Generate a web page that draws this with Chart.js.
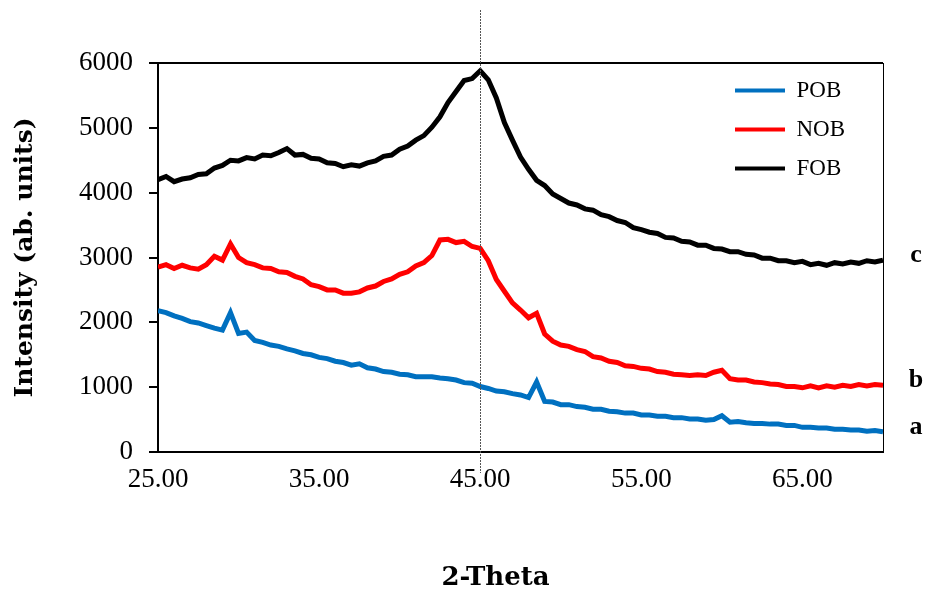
<!DOCTYPE html>
<html>
<head>
<meta charset="utf-8">
<script src="https://cdn.jsdelivr.net/npm/chart.js@4.4.1/dist/chart.umd.min.js"></script>
<style>
  html, body { margin: 0; padding: 0; background: #ffffff; }
</style>
</head>
<body>
<canvas id="xrdChart" width="930" height="591"></canvas>
<script>
// 2-theta positions (degrees)
const theta = [
  25.0, 25.5, 26.0, 26.5, 27.0, 27.5, 28.0, 28.5, 29.0, 29.5,
  30.0, 30.5, 31.0, 31.5, 32.0, 32.5, 33.0, 33.5, 34.0, 34.5,
  35.0, 35.5, 36.0, 36.5, 37.0, 37.5, 38.0, 38.5, 39.0, 39.5,
  40.0, 40.5, 41.0, 41.5, 42.0, 42.5, 43.0, 43.5, 44.0, 44.5,
  45.0, 45.5, 46.0, 46.5, 47.0, 47.5, 48.0, 48.5, 49.0, 49.5,
  50.0, 50.5, 51.0, 51.5, 52.0, 52.5, 53.0, 53.5, 54.0, 54.5,
  55.0, 55.5, 56.0, 56.5, 57.0, 57.5, 58.0, 58.5, 59.0, 59.5,
  60.0, 60.5, 61.0, 61.5, 62.0, 62.5, 63.0, 63.5, 64.0, 64.5,
  65.0, 65.5, 66.0, 66.5, 67.0, 67.5, 68.0, 68.5, 69.0, 69.5,
  70.0
];

// intensities
const pob = [
  2180, 2150, 2100, 2060, 2010, 1990, 1950, 1910, 1880, 2150,
  1830, 1850, 1720, 1690, 1650, 1630, 1590, 1560, 1520, 1500,
  1460, 1440, 1400, 1380, 1340, 1360, 1300, 1280, 1240, 1230,
  1200, 1190, 1160, 1160, 1160, 1140, 1130, 1110, 1070, 1060,
  1010, 980, 940, 930, 900, 880, 840, 1080, 780, 770,
  730, 730, 700, 690, 660, 660, 630, 620, 600, 600,
  570, 570, 550, 550, 530, 530, 510, 510, 490, 500,
  560, 460, 470, 450, 440, 440, 430, 430, 410, 410,
  380, 380, 370, 370, 350, 350, 340, 340, 320, 330,
  310
];

const nob = [
  2850, 2890, 2830, 2880, 2840, 2820, 2890, 3020, 2960, 3210,
  3000, 2920, 2890, 2840, 2830, 2780, 2770, 2710, 2670, 2580,
  2550, 2500, 2500, 2450, 2450, 2470, 2530, 2560, 2630, 2670,
  2740, 2780, 2870, 2920, 3030, 3270, 3280, 3230, 3250, 3170,
  3140, 2950, 2660, 2480, 2300, 2190, 2070, 2140, 1820, 1710,
  1650, 1630, 1580, 1550, 1470, 1450, 1400, 1380, 1330, 1320,
  1290, 1280, 1240, 1230, 1200, 1190, 1180, 1190, 1180, 1230,
  1260, 1130, 1110, 1110, 1080, 1070, 1050, 1040, 1010, 1010,
  990, 1020, 990, 1020, 1000, 1030, 1010, 1040, 1020, 1040,
  1030
];

const fob = [
  4200, 4250, 4170, 4210, 4230, 4280, 4290, 4380, 4420, 4500,
  4490, 4540, 4520, 4580, 4570, 4620, 4680, 4580, 4590, 4530,
  4520, 4460, 4450, 4400, 4430, 4410, 4460, 4490, 4560, 4580,
  4670, 4720, 4810, 4880, 5010, 5170, 5390, 5560, 5730, 5760,
  5880, 5740, 5460, 5080, 4810, 4550, 4360, 4190, 4110, 3980,
  3910, 3840, 3810, 3750, 3730, 3660, 3630, 3570, 3540, 3460,
  3430, 3390, 3370, 3310, 3300, 3250, 3240, 3190, 3190, 3140,
  3130, 3090, 3090, 3050, 3040, 2990, 2990, 2950, 2950, 2920,
  2940, 2890, 2910, 2880, 2920, 2900, 2930, 2910, 2950, 2930,
  2960
];

const seriesNames = ['POB', 'NOB', 'FOB'];
const seriesColors = ['#0070C0', '#FF0000', '#000000'];
const curveTags = ['a', 'b', 'c'];
const xTicks = [25, 35, 45, 55, 65];
const markerTheta = 45;
const xTitle = '2-Theta';

const serif = "'Liberation Serif', 'Times New Roman', serif";
const slab = "'DejaVu Serif', serif";

function toPoints(values) {
  return theta.map((t, i) => ({ x: t, y: values[i] }));
}

// frame, dotted marker line, x title and a/b/c tags
const extrasPlugin = {
  id: 'extras',
  afterLayout(chart) {
    // put the legend inside the plot, top right
    const lg = chart.legend;
    const ca = chart.chartArea;
    lg.left = ca.right - 164;
    lg.top = ca.top;
    lg.right = lg.left + lg.width;
    lg.bottom = lg.top + lg.height;
  },
  afterDraw(chart) {
    const ctx = chart.ctx;
    const ca = chart.chartArea;
    ctx.save();
    // top and right edges of the plot box
    ctx.strokeStyle = '#000';
    ctx.lineWidth = 2;
    ctx.beginPath();
    ctx.moveTo(ca.left, ca.top);
    ctx.lineTo(ca.right, ca.top);
    ctx.stroke();
    ctx.lineWidth = 1;
    ctx.beginPath();
    ctx.moveTo(ca.right + 0.5, ca.top);
    ctx.lineTo(ca.right + 0.5, ca.bottom);
    ctx.stroke();

    // dotted line at 45
    const mx = Math.round(chart.scales.x.getPixelForValue(markerTheta)) + 0.5;
    ctx.strokeStyle = '#555';
    ctx.setLineDash([2, 1]);
    ctx.beginPath();
    ctx.moveTo(mx, 10);
    ctx.lineTo(mx, ca.bottom + 21);
    ctx.stroke();
    ctx.setLineDash([]);

    ctx.fillStyle = '#000';
    ctx.textAlign = 'center';
    ctx.textBaseline = 'middle';

    // x axis title, sits a bit left of the plot centre
    ctx.font = 'bold 26px ' + slab;
    ctx.fillText(xTitle, ca.left + (ca.right - ca.left) / 2 - 25, 578);

    // curve tags next to the last point of each series
    ctx.font = 'bold 26px ' + serif;
    chart.data.datasets.forEach((ds, i) => {
      const meta = chart.getDatasetMeta(i);
      const last = meta.data[meta.data.length - 1];
      ctx.fillText(curveTags[i], ca.right + 33, last.y - 5);
    });
    ctx.restore();
  }
};

const ctx = document.getElementById('xrdChart').getContext('2d');
const chart = new Chart(ctx, {
  type: 'line',
  data: {
    datasets: [pob, nob, fob].map((vals, i) => ({
      label: seriesNames[i],
      data: toPoints(vals),
      borderColor: seriesColors[i],
      backgroundColor: seriesColors[i],
      borderWidth: 5,
      pointRadius: 0,
      tension: 0,
      fill: false
    }))
  },
  options: {
    responsive: false,
    animation: false,
    devicePixelRatio: 1,
    layout: {
      padding: { left: 0, right: 47, top: 63, bottom: 0 }
    },
    plugins: {
      legend: {
        position: 'chartArea',
        align: 'start',
        labels: {
          boxWidth: 50,
          boxHeight: 4,
          padding: 16,
          color: '#000',
          font: { family: serif, size: 23 },
          generateLabels(chart) {
            return Chart.defaults.plugins.legend.labels.generateLabels(chart).map(l => {
              l.lineWidth = 0;
              return l;
            });
          }
        }
      },
      tooltip: { enabled: false }
    },
    scales: {
      x: {
        type: 'linear',
        min: 25,
        max: 70,
        afterBuildTicks(axis) {
          axis.ticks = xTicks.map(v => ({ value: v }));
        },
        afterFit(axis) {
          axis.height = 139;
        },
        grid: { display: true, drawOnChartArea: false, drawTicks: false },
        border: { display: true, color: '#000', width: 2 },
        ticks: {
          autoSkip: false,
          maxRotation: 0,
          padding: 12,
          color: '#000',
          font: { family: serif, size: 27 },
          callback: v => Number(v).toFixed(2)
        },
        title: { display: false }
      },
      y: {
        min: 0,
        max: 6000,
        afterFit(axis) {
          axis.width = 158;
        },
        grid: { drawOnChartArea: false, drawTicks: true, tickLength: 9, color: '#000', lineWidth: 2 },
        border: { display: true, color: '#000', width: 2 },
        ticks: {
          stepSize: 1000,
          padding: 16,
          color: '#000',
          font: { family: serif, size: 27 },
          callback: v => String(v)
        },
        title: {
          display: true,
          text: 'Intensity (ab. units)',
          color: '#000',
          padding: { top: 10, bottom: 0 },
          font: { family: slab, size: 25, weight: 'bold' }
        }
      }
    }
  },
  plugins: [extrasPlugin]
});
</script>
</body>
</html>
